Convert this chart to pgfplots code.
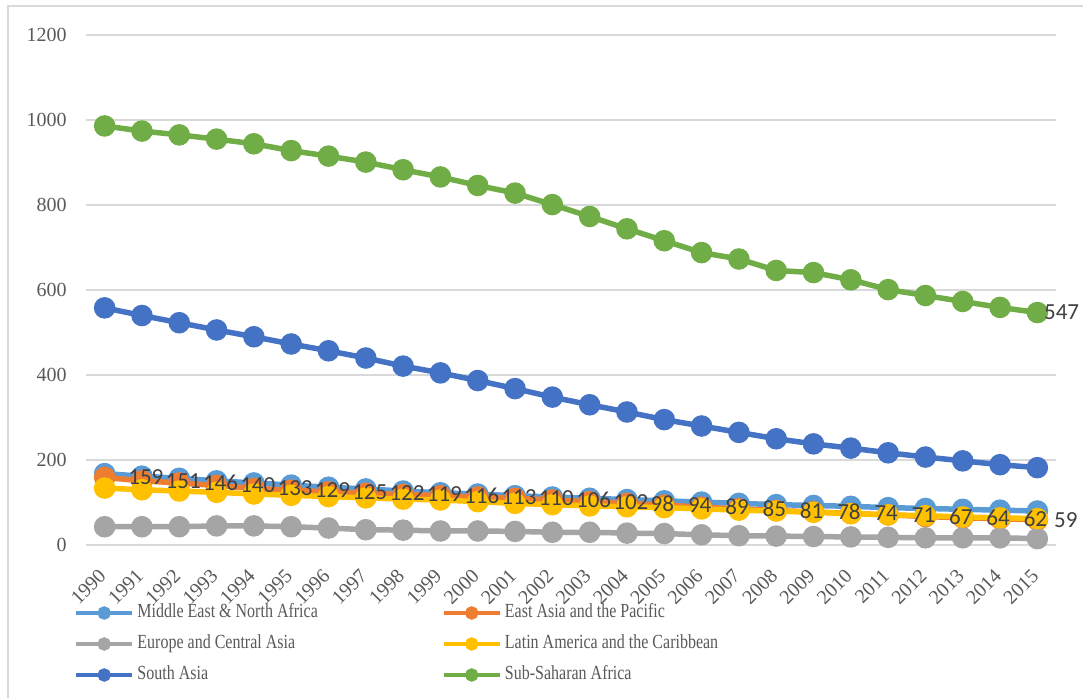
\documentclass[border=0pt]{standalone}
\usepackage{fontspec}
\setmainfont{Liberation Serif}
\newfontfamily\carlito{Carlito}
\newfontfamily\legendfont[FakeStretch=0.8]{Liberation Serif}
\usepackage{pgfplots}
\pgfplotsset{compat=1.18}
\definecolor{cMENA}{HTML}{5B9BD5}
\definecolor{cEAP}{HTML}{ED7D31}
\definecolor{cECA}{HTML}{A5A5A5}
\definecolor{cLAC}{HTML}{FFC000}
\definecolor{cSA}{HTML}{4472C4}
\definecolor{cSSA}{HTML}{70AD47}
\definecolor{gridgray}{HTML}{D9D9D9}
\definecolor{tickgray}{HTML}{595959}
\definecolor{labelgray}{HTML}{404040}
\begin{document}
\begin{tikzpicture}
\begin{axis}[name=ax, at={(0,0)}, anchor=south west,
  scale only axis, width=485pt, height=255pt,
  xmin=1989.5, xmax=2015.5, ymin=0, ymax=1200,
  xtick={1990,1991,...,2015}, ytick={0,200,...,1200},
  axis x line*=bottom, axis y line*=left,
  axis line style={draw=none},
  major tick length=0pt,
  ymajorgrids, grid style={draw=gridgray, line width=0.75pt},
  /pgf/number format/assume math mode=true,
  /pgf/number format/1000 sep={},
  tick label style={font=\fontsize{10}{12}\selectfont, text=tickgray},
  xticklabel style={inner sep=0pt, anchor=north east, xshift=-3.5pt, yshift=-11pt, rotate=45},
  yticklabel style={inner sep=0pt, xshift=-9.5pt},
  clip=false,
  every axis plot/.append style={line width=2.75pt, mark=*, mark size=4pt},
  legend columns=2,
  legend cell align=left,
  legend style={at={(-0.0124,-0.1176)}, anchor=north west, draw=none, fill=none,
    inner sep=0pt, outer sep=0pt, column sep=0pt, row sep=7.5pt,
    font=\legendfont\fontsize{10}{12}\selectfont,
    nodes={inner sep=0pt, text height=6.5pt, text depth=1.5pt, text=tickgray}},
  legend image code/.code={\draw[#1, line width=2.25pt, mark size=2.2pt, mark repeat=2, mark phase=2]
    plot coordinates {(0pt,0pt) (14pt,0pt) (28pt,0pt)};},
]
\addplot[color=cMENA] coordinates {
(1990,168)(1991,162)(1992,157)(1993,151)(1994,146)(1995,141)(1996,136)(1997,132)(1998,127)(1999,123)
(2000,120)(2001,116)(2002,113)(2003,110)(2004,107)(2005,104)(2006,101)(2007,98)(2008,95)(2009,93)
(2010,91)(2011,88)(2012,86)(2013,84)(2014,82)(2015,80)};
\addlegendentry{\hspace*{1.5pt}\makebox[152pt][l]{Middle East \& North Africa}}
\addplot[color=cEAP] coordinates {
(1990,159)(1991,151)(1992,146)(1993,140)(1994,133)(1995,129)(1996,125)(1997,122)(1998,119)(1999,116)
(2000,113)(2001,110)(2002,106)(2003,102)(2004,98)(2005,94)(2006,89)(2007,85)(2008,81)(2009,78)
(2010,74)(2011,71)(2012,67)(2013,64)(2014,62)(2015,59)};
\addlegendentry{\hspace*{1.5pt}East Asia and the Pacific}
\addplot[color=cECA] coordinates {
(1990,43)(1991,43)(1992,43)(1993,45)(1994,45)(1995,43)(1996,40)(1997,36)(1998,35)(1999,33)
(2000,33)(2001,32)(2002,30)(2003,30)(2004,28)(2005,27)(2006,24)(2007,22)(2008,21)(2009,20)
(2010,19)(2011,18)(2012,17)(2013,17)(2014,17)(2015,15)};
\addlegendentry{\hspace*{1.5pt}\makebox[152pt][l]{Europe and Central Asia}}
\addplot[color=cLAC] coordinates {
(1990,134)(1991,130)(1992,127)(1993,124)(1994,120)(1995,117)(1996,114)(1997,111)(1998,108)(1999,106)
(2000,102)(2001,98)(2002,95)(2003,92)(2004,90)(2005,88)(2006,85)(2007,82)(2008,80)(2009,77)
(2010,74)(2011,71)(2012,69)(2013,66)(2014,64)(2015,62)};
\addlegendentry{\hspace*{1.5pt}Latin America and the Caribbean}
\addplot[color=cSA] coordinates {
(1990,558)(1991,540)(1992,523)(1993,506)(1994,490)(1995,473)(1996,457)(1997,440)(1998,421)(1999,405)
(2000,387)(2001,368)(2002,348)(2003,330)(2004,313)(2005,295)(2006,280)(2007,265)(2008,250)(2009,238)
(2010,228)(2011,217)(2012,207)(2013,198)(2014,189)(2015,182)};
\addlegendentry{\hspace*{1.5pt}\makebox[152pt][l]{South Asia}}
\addplot[color=cSSA] coordinates {
(1990,986)(1991,974)(1992,965)(1993,955)(1994,944)(1995,928)(1996,915)(1997,901)(1998,883)(1999,866)
(2000,846)(2001,828)(2002,801)(2003,773)(2004,744)(2005,716)(2006,688)(2007,673)(2008,646)(2009,641)
(2010,624)(2011,601)(2012,587)(2013,573)(2014,559)(2015,547)};
\addlegendentry{\hspace*{1.5pt}Sub-Saharan Africa}
% data labels
\addplot[forget plot, draw=none, mark=none, nodes near coords, point meta=y,
  every node near coord/.style={anchor=west, inner sep=0pt, xshift=10.5pt,
    font=\carlito\fontsize{11.5}{14}\selectfont, text=labelgray}] coordinates {
(1990,159)(1991,151)(1992,146)(1993,140)(1994,133)(1995,129)(1996,125)(1997,122)(1998,119)(1999,116)
(2000,113)(2001,110)(2002,106)(2003,102)(2004,98)(2005,94)(2006,89)(2007,85)(2008,81)(2009,78)
(2010,74)(2011,71)(2012,67)(2013,64)(2014,62)};
\addplot[forget plot, draw=none, mark=none, nodes near coords, point meta=y,
  every node near coord/.style={anchor=west, inner sep=0pt, xshift=7pt,
    font=\carlito\fontsize{11.5}{14}\selectfont, text=labelgray}] coordinates {(2015,59)};
\addplot[forget plot, draw=none, mark=none, nodes near coords, point meta=y,
  every node near coord/.style={anchor=west, inner sep=0pt, xshift=2pt,
    font=\carlito\fontsize{11.5}{14}\selectfont, text=labelgray}] coordinates {(2015,547)};
\end{axis}
\draw[gridgray, line width=0.75pt] ([xshift=-39pt,yshift=-76.5pt]ax.south west) -- ([xshift=-39pt,yshift=14.5pt]ax.north west) -- ([xshift=13.5pt,yshift=14.5pt]ax.north east);
\pgfresetboundingbox
\path[use as bounding box] ([xshift=-43pt,yshift=-76.5pt]ax.south west) rectangle ([xshift=13.5pt,yshift=17.5pt]ax.north east);
\end{tikzpicture}
\end{document}
